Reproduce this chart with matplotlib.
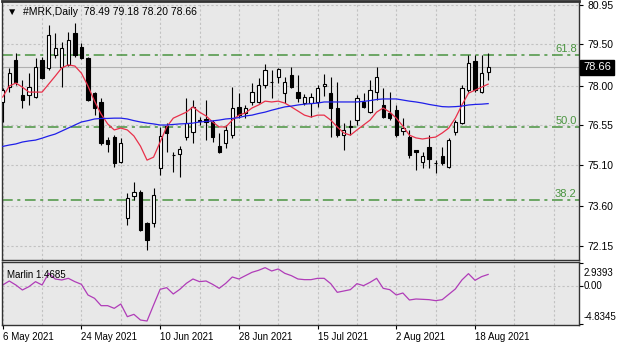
import numpy as np
import matplotlib.pyplot as plt
from matplotlib.transforms import blended_transform_factory

# daily candles, #MRK
open_ = [77.40, 77.94, 78.93, 77.65, 77.65, 77.58, 78.93, 78.64, 79.11, 78.67,
         78.75, 79.91, 79.40, 79.00, 77.72, 77.40, 76.01, 76.12, 75.21, 73.17,
         73.97, 74.12, 72.99, 72.99, 74.99, 76.52, 75.47, 75.50, 76.12, 76.30,
         76.71, 76.78, 76.67, 75.79, 75.90, 76.19, 77.22, 76.99, 77.40, 77.40,
         78.02, 78.13, 78.31, 77.72, 78.38, 77.76, 77.36, 77.36, 77.40, 77.98,
         77.72, 77.18, 76.19, 76.49, 76.74, 77.40, 77.03, 77.76, 77.29, 76.99,
         77.10, 76.34, 76.12, 75.65, 75.21, 75.76, 75.17, 75.43, 75.03, 76.30,
         76.63, 77.83, 78.89, 77.76, 78.49]
high = [77.91, 78.64, 79.18, 78.20, 78.45, 79.00, 79.04, 80.20, 79.91, 79.58,
        79.95, 80.28, 79.55, 79.04, 77.76, 77.54, 76.12, 76.19, 76.08, 74.08,
        74.48, 74.19, 73.02, 74.26, 76.49, 76.63, 75.58, 75.79, 77.54, 77.47,
        76.85, 77.47, 76.74, 76.27, 76.56, 77.94, 77.72, 77.29, 78.09, 78.27,
        78.78, 78.56, 78.64, 78.31, 78.67, 78.38, 77.69, 77.72, 78.02, 78.42,
        78.31, 78.13, 76.63, 76.74, 77.65, 77.72, 78.20, 78.67, 77.91, 77.76,
        77.29, 76.81, 76.38, 75.65, 75.58, 76.19, 75.28, 75.76, 76.08, 76.74,
        78.02, 79.11, 79.11, 79.11, 79.18]
low = [76.67, 77.76, 78.02, 77.18, 77.29, 77.54, 78.24, 78.56, 79.00, 77.94,
       78.71, 79.04, 78.96, 77.43, 76.92, 75.83, 75.58, 75.03, 75.17, 72.91,
       73.83, 72.70, 72.00, 72.84, 74.74, 75.58, 74.85, 74.66, 76.01, 75.90,
       76.56, 76.01, 75.94, 75.54, 75.72, 76.08, 76.81, 76.81, 77.29, 77.36,
       77.91, 77.54, 78.09, 77.36, 77.91, 77.40, 77.29, 76.85, 77.22, 77.62,
       76.12, 76.12, 75.65, 76.19, 76.56, 77.18, 77.00, 77.47, 76.81, 76.74,
       76.12, 76.19, 75.36, 74.92, 74.99, 74.99, 74.81, 75.10, 74.99, 76.19,
       76.60, 77.76, 77.76, 77.72, 78.20]
close = [77.83, 78.45, 78.13, 77.47, 77.94, 78.67, 78.27, 79.84, 79.37, 79.37,
         79.66, 79.11, 79.00, 77.47, 77.18, 75.90, 75.87, 75.17, 75.90, 73.90,
         74.12, 72.73, 72.37, 74.01, 76.16, 76.27, 75.45, 75.68, 76.63, 77.22,
         76.74, 76.67, 76.12, 75.58, 76.38, 77.18, 76.92, 77.18, 77.76, 78.02,
         78.56, 78.12, 78.60, 78.13, 77.94, 77.54, 77.58, 77.58, 77.91, 78.05,
         77.18, 76.19, 76.38, 76.52, 77.54, 77.22, 77.83, 78.31, 76.85, 76.81,
         76.19, 76.45, 75.47, 75.58, 75.43, 75.32, 75.19, 75.17, 76.01, 76.67,
         77.91, 78.82, 77.83, 78.45, 78.66]

# moving averages
ma_fast = [77.58, 77.98, 78.09, 77.94, 77.76, 77.76, 77.76, 78.05, 78.34, 78.64,
           78.75, 78.71, 78.45, 77.98, 77.43, 76.96, 76.60, 76.38, 76.45, 76.38,
           76.16, 75.79, 75.28, 75.39, 75.94, 76.49, 76.81, 76.92, 77.03, 77.22,
           77.03, 76.89, 76.67, 76.49, 76.49, 76.74, 76.92, 77.00, 77.18, 77.29,
           77.43, 77.40, 77.43, 77.36, 77.22, 77.07, 76.92, 76.85, 76.92, 76.92,
           76.74, 76.49, 76.27, 76.19, 76.38, 76.56, 76.74, 77.03, 77.18, 77.03,
           76.81, 76.52, 76.19, 76.09, 76.05, 76.09, 76.12, 76.27, 76.45, 76.81,
           77.29, 77.72, 77.83, 77.94, 78.05]
ma_slow = [75.78, 75.83, 75.87, 75.94, 75.98, 76.01, 76.08, 76.16, 76.23, 76.34,
           76.45, 76.56, 76.67, 76.72, 76.78, 76.80, 76.80, 76.81, 76.81, 76.78,
           76.72, 76.67, 76.63, 76.60, 76.56, 76.56, 76.58, 76.60, 76.61, 76.63,
           76.67, 76.69, 76.71, 76.74, 76.78, 76.80, 76.83, 76.89, 76.92, 76.98,
           77.03, 77.10, 77.16, 77.22, 77.25, 77.29, 77.32, 77.34, 77.36, 77.40,
           77.40, 77.40, 77.40, 77.40, 77.40, 77.42, 77.45, 77.49, 77.51, 77.51,
           77.51, 77.47, 77.43, 77.40, 77.36, 77.31, 77.27, 77.23, 77.22, 77.23,
           77.25, 77.29, 77.31, 77.32, 77.34]

marlin = [0.127, 0.636, 0.127, -0.509, -0.085, 0.551, 0.127, 1.611, 0.890, 0.763,
          0.975, 0.551, 0.212, -1.145, -1.569, -2.502, -2.502, -2.842, -2.290, -3.902,
          -3.605, -4.326, -4.453, -2.418, -0.424, -0.212, -1.018, -0.424, 0.339, 0.890,
          0.551, 0.636, 0.212, -0.297, 0.339, 1.145, 0.890, 1.315, 1.739, 1.993,
          2.332, 1.908, 2.163, 1.611, 1.315, 0.890, 0.806, 0.806, 0.975, 0.975,
          0.297, -0.806, -0.636, -0.467, 0.297, 0.042, 0.466, 0.975, -0.297, -0.467,
          -1.145, -0.891, -1.781, -1.654, -1.696, -1.739, -1.866, -1.739, -1.060, -0.382,
          0.763, 1.569, 0.721, 1.188, 1.4685]

price_ticks = [80.95, 79.50, 78.00, 76.55, 75.10, 73.60, 72.15]
fib_levels = [79.11, 76.49, 73.83]
fib_names = ['61.8', '50.0', '38.2']
marlin_ticks = [2.9393, 0.00, -4.8345]
marlin_tick_labels = ['2.9393', '0.00', '-4.8345']
date_pos = [0, 12, 24, 36, 48, 60, 72]
date_labels = ['6 May 2021', '24 May 2021', '10 Jun 2021', '28 Jun 2021',
               '15 Jul 2021', '2 Aug 2021', '18 Aug 2021']

bg = '#e8e8e8'
gridc = '#c2c2c2'
fibc = '#4a9440'
plt.rcParams['font.family'] = ['Liberation Sans', 'DejaVu Sans']
plt.rcParams['font.size'] = 7

fig = plt.figure(figsize=(6.2, 3.44), dpi=100)
ax = fig.add_axes([2/620, 1 - 260/344, 577/620, 259/344])
ax2 = fig.add_axes([2/620, 1 - 325/344, 577/620, 63/344])

x = np.arange(len(close))
xlim = (-0.107, 87.85)

for a in (ax, ax2):
    a.set_facecolor(bg)
    a.set_xlim(*xlim)
    for s in a.spines.values():
        s.set_color('#333333')
        s.set_linewidth(1.0)
    for gx in np.arange(0, 90, 6):
        a.axvline(gx, color=gridc, lw=0.8, ls=(0, (2, 2)), zorder=0)
    a.yaxis.tick_right()
    a.tick_params(axis='y', length=3, pad=3, colors='black', labelsize=7.5)
ax.spines['top'].set_linewidth(2.0)

# main price panel
ax.set_ylim(71.64, 81.08)
for gy in price_ticks:
    ax.axhline(gy, color=gridc, lw=0.8, ls=(0, (2, 2)), zorder=0)
ax.set_yticks(price_ticks)
ax.set_yticklabels(['%.2f' % v for v in price_ticks])
ax.set_xticks([])

ax.axhline(close[-1], color='#b0b0b0', lw=0.8, zorder=1)

trans = blended_transform_factory(ax.transAxes, ax.transData)
for lev, name in zip(fib_levels, fib_names):
    ax.axhline(lev, color=fibc, lw=1.1, ls=(0, (7, 3, 2, 3)), zorder=1)
    ax.text(0.996, lev + 0.05, name, transform=trans, ha='right', va='bottom',
            color=fibc, fontsize=8)

o = np.array(open_); c = np.array(close)
up = c >= o
ax.vlines(x, low, high, color='black', lw=0.8, zorder=3)
body_lo = np.minimum(o, c)
body_h = np.maximum(np.abs(c - o), 0.02)
ax.bar(x, body_h, bottom=body_lo, width=0.5,
       color=np.where(up, 'white', 'black'), edgecolor='black', lw=0.8, zorder=4)

ax.plot(x, ma_fast, color='#e8304a', lw=0.9, zorder=5)
ax.plot(x, ma_slow, color='#1f1fe8', lw=0.9, zorder=5)

ax.annotate('%.2f' % close[-1], xy=(1, close[-1]), xycoords=trans,
            xytext=(3, 0), textcoords='offset points', va='center', ha='left',
            color='white', fontsize=8,
            bbox=dict(boxstyle='square,pad=0.25', fc='black', ec='black'),
            annotation_clip=False)

ax.text(0.008, 0.978, '\u25BC  #MRK,Daily  %.2f %.2f %.2f %.2f'
        % (open_[-1], high[-1], low[-1], close[-1]),
        transform=ax.transAxes, ha='left', va='top', fontsize=7.5)

# Marlin panel
ax2.set_ylim(-4.96, 3.05)
ax2.axhline(0, color=gridc, lw=0.8, ls=(0, (2, 2)), zorder=0)
ax2.plot(x, marlin, color='#b03cb8', lw=0.9)
ax2.set_yticks(marlin_ticks)
ax2.set_yticklabels([])
trans2 = blended_transform_factory(ax2.transAxes, ax2.transData)
offs = [-7, 0, 5]
for v, lab, dy in zip(marlin_ticks, marlin_tick_labels, offs):
    ax2.annotate(lab, xy=(1, v), xycoords=trans2, xytext=(3, dy),
                 textcoords='offset points', va='center', ha='left', fontsize=7,
                 annotation_clip=False)
ax2.text(0.008, 0.88, 'Marlin %.4f' % marlin[-1], transform=ax2.transAxes,
         ha='left', va='top', fontsize=7)

ax2.set_xticks(date_pos)
ax2.set_xticklabels(date_labels)
for lbl in ax2.get_xticklabels():
    lbl.set_ha('left')
ax2.tick_params(axis='x', length=3, pad=2, labelsize=7)

fig.savefig('out.png', dpi=100, facecolor='white')
